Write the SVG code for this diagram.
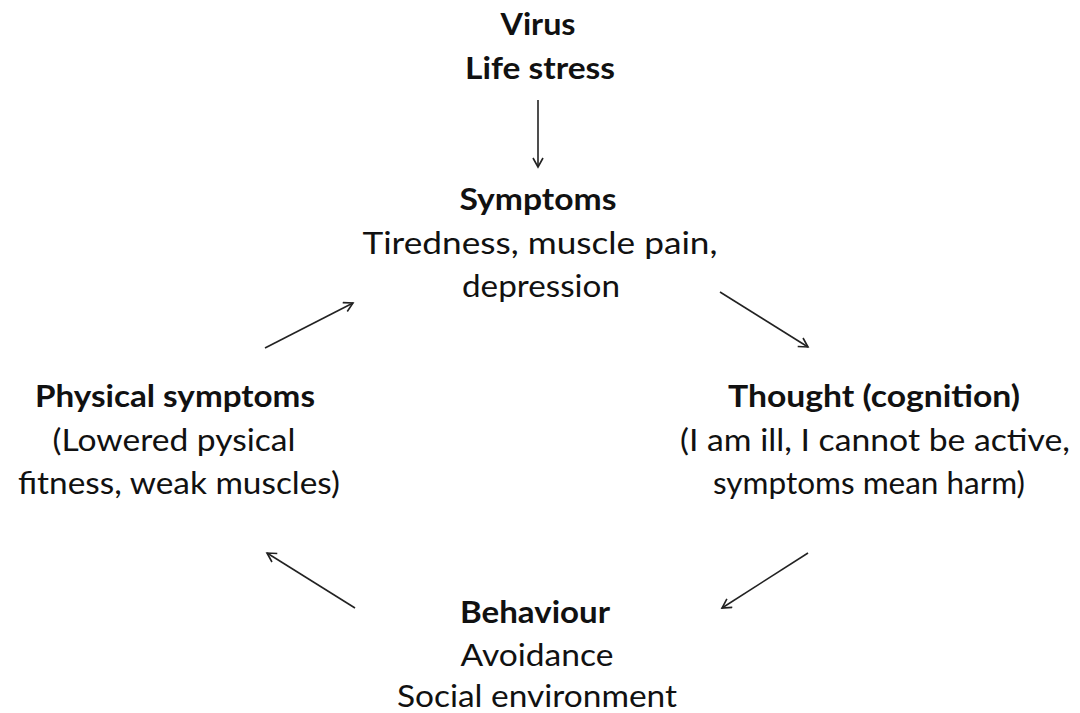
<svg xmlns="http://www.w3.org/2000/svg" width="1080" height="713" viewBox="0 0 1080 713">
<defs>
<style>
text{font-family:"Lato","Open Sans","Liberation Sans",sans-serif;font-size:31px;fill:#111;text-anchor:middle}
.b{font-weight:bold}
.c{stroke:#222;stroke-width:1.6;fill:none}
</style>
<marker id="ah" markerWidth="12" markerHeight="12" refX="10" refY="6" orient="auto" markerUnits="userSpaceOnUse">
<path d="M1,1 L10,6 L1,11" fill="none" stroke="#222" stroke-width="1.6"/>
</marker>
</defs>
<rect width="1080" height="713" fill="#fff"/>
<g id="cause">
<text class="b" x="538" y="35" textLength="75" lengthAdjust="spacingAndGlyphs">Virus</text>
<text class="b" x="540" y="79" textLength="150" lengthAdjust="spacingAndGlyphs">Life stress</text>
</g>
<g id="symptoms">
<text class="b" x="538" y="210" textLength="157" lengthAdjust="spacingAndGlyphs">Symptoms</text>
<text x="540" y="254" textLength="355" lengthAdjust="spacingAndGlyphs">Tiredness, muscle pain,</text>
<text x="541" y="297" textLength="158" lengthAdjust="spacingAndGlyphs">depression</text>
</g>
<g id="thought">
<text class="b" x="874" y="407" textLength="292" lengthAdjust="spacingAndGlyphs">Thought (cognition)</text>
<text x="875" y="451" textLength="390" lengthAdjust="spacingAndGlyphs">(I am ill, I cannot be active,</text>
<text x="869" y="494" textLength="312" lengthAdjust="spacingAndGlyphs">symptoms mean harm)</text>
</g>
<g id="behaviour">
<text class="b" x="535" y="623" textLength="150" lengthAdjust="spacingAndGlyphs">Behaviour</text>
<text x="537" y="666" textLength="153" lengthAdjust="spacingAndGlyphs">Avoidance</text>
<text x="537" y="707" textLength="280" lengthAdjust="spacingAndGlyphs">Social environment</text>
</g>
<g id="physical">
<text class="b" x="175" y="407" textLength="280" lengthAdjust="spacingAndGlyphs">Physical symptoms</text>
<text x="174" y="451" textLength="243" lengthAdjust="spacingAndGlyphs">(Lowered pysical</text>
<text x="179" y="494" textLength="322" lengthAdjust="spacingAndGlyphs">fitness, weak muscles)</text>
</g>
<g id="connectors">
<line class="c" x1="538" y1="100" x2="538" y2="167" marker-end="url(#ah)"/>
<line class="c" x1="720" y1="292" x2="808" y2="347" marker-end="url(#ah)"/>
<line class="c" x1="808" y1="553" x2="722" y2="608" marker-end="url(#ah)"/>
<line class="c" x1="355" y1="608" x2="267" y2="553" marker-end="url(#ah)"/>
<line class="c" x1="265" y1="348" x2="353" y2="303" marker-end="url(#ah)"/>
</g>
</svg>
